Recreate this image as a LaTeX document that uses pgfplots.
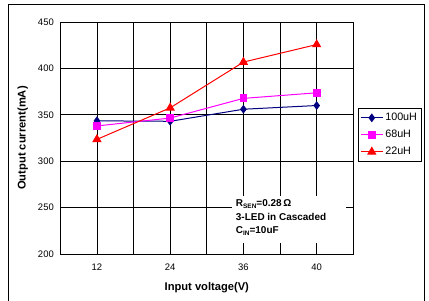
\documentclass[border=0pt]{standalone}
\usepackage{fontspec}
\setmainfont{Liberation Sans}
\usepackage{pgfplots}
\pgfplotsset{compat=1.18}
\definecolor{navy}{RGB}{0,0,128}
\definecolor{mag}{RGB}{255,0,255}
\definecolor{rd}{RGB}{255,0,0}
\begin{document}
\begin{tikzpicture}[x=1bp,y=1bp]
\begin{axis}[
  at={(60.3bp,47bp)}, anchor=south west,
  scale only axis, width=293bp, height=232bp,
  xmin=0, xmax=4, ymin=200, ymax=450,
  xtick={0.5,1.5,2.5,3.5}, xticklabels={12,24,36,40},
  minor xtick={0,1,2,3,4},
  ytick={200,250,...,450},
  xmajorgrids, xminorgrids, ymajorgrids,
  grid style={black, line width=0.8bp},
  minor grid style={black, line width=0.8bp},
  axis line style={black, line width=0.9bp},
  major tick length=0pt, minor tick length=0pt,
  /pgf/number format/assume math mode=true,
  ticklabel style={font=\fontsize{9.5}{11}\selectfont},
  xticklabel style={yshift=-6bp},
  yticklabel style={xshift=-3bp},
  xlabel={Input voltage(V)},
  ylabel={Output current(mA)},
  label style={font=\fontsize{11.2}{13}\selectfont\bfseries},
  xlabel style={at={(axis description cs:0.5,0)}, anchor=center, yshift=-34bp},
  ylabel style={at={(axis description cs:0,0.5)}, anchor=center, yshift=37.6bp},
  legend style={at={(1.016,0.629)}, anchor=north west, draw=black, line width=0.6bp,
    font=\fontsize{10.8}{12}\selectfont, inner xsep=2bp, inner ysep=3bp,
    row sep=4bp, cells={anchor=west}},
  legend image code/.code={%
    \draw[#1] (0bp,0bp) -- (22bp,0bp);
    \draw[#1, mark repeat=2, mark phase=2] plot coordinates {(0bp,0bp) (11bp,0bp) (22bp,0bp)};},
  clip=false,
]
\addplot[navy, line width=1bp, mark=diamond*, mark size=3.6bp, mark options={fill=navy}]
  coordinates {(0.5,343.5) (1.5,343) (2.5,356) (3.5,360)};
\addlegendentry{100uH}
\addplot[mag, line width=1bp, mark=square*, mark size=3.4bp, mark options={fill=mag}]
  coordinates {(0.5,338) (1.5,346.5) (2.5,367.7) (3.5,373.7)};
\addlegendentry{68uH}
\addplot[rd, line width=1bp, mark=triangle*, mark size=4.4bp, mark options={fill=rd}]
  coordinates {(0.5,323.5) (1.5,357.5) (2.5,406.8) (3.5,425.7)};
\addlegendentry{22uH}
\node[anchor=north west, fill=white, inner sep=0pt, minimum width=114bp, minimum height=47bp]
  at (axis cs:2.344,262.5) {};
\node[anchor=north west, align=left, inner sep=0pt, font=\fontsize{10}{13.5}\selectfont\bfseries]
  at (axis cs:2.395,258.5)
  {R\raisebox{-0.35ex}{\fontsize{6.5}{7}\selectfont SEN}=0.28\,Ω\\
   3-LED in Cascaded\\
   C\raisebox{-0.35ex}{\fontsize{6.5}{7}\selectfont IN}=10uF};
\end{axis}
\draw[black, line width=1bp] (8.3,-5) -- (8.3,296.5) -- (424,296.5) -- (424,-5);
\pgfresetboundingbox
\path (0,0) rectangle (429,301);
\end{tikzpicture}
\end{document}
